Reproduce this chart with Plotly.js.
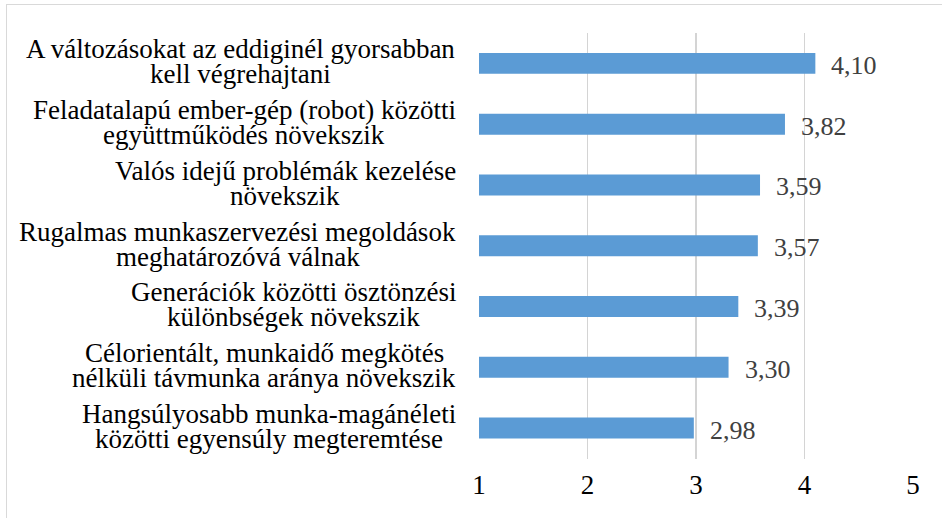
<!DOCTYPE html>
<html>
<head>
<meta charset="utf-8">
<script src="https://cdn.plot.ly/plotly-3.0.1.min.js"></script>
<style>
  html, body { margin: 0; padding: 0; background: #fff; overflow: hidden; }
  #wrap { position: relative; width: 942px; height: 518px; }
  #chart { position: absolute; left: 0; top: 0; width: 942px; height: 518px; }
  #frame { position: absolute; left: 6px; top: 4px; width: 1000px; height: 1000px;
           border: 1px solid #d9d9d9; pointer-events: none; }
</style>
</head>
<body>
<div id="wrap"><div id="chart"></div><div id="frame"></div></div>
<script>
const categories = [
  "A változásokat az eddiginél gyorsabban<br>kell végrehajtani",
  "Feladatalapú ember-gép (robot) közötti<br>együttműködés növekszik",
  "Valós idejű problémák kezelése<br>növekszik",
  "Rugalmas munkaszervezési megoldások<br>meghatározóvá válnak",
  "Generációk közötti ösztönzési<br>különbségek növekszik",
  "Célorientált, munkaidő megkötés<br>nélküli távmunka aránya növekszik",
  "Hangsúlyosabb munka-magánéleti<br>közötti egyensúly megteremtése"
];
const values = [4.10, 3.82, 3.59, 3.57, 3.39, 3.30, 2.98];
const tickValues = [1, 2, 3, 4, 5];

const W = 942, H = 518;
const M = { l: 479, r: 29, t: 33, b: 59 };
const plotW = W - M.l - M.r;
const FONT = "Liberation Serif";
const labelSize = 27;
const labelRight = 456;

const ctx = document.createElement("canvas").getContext("2d");
ctx.font = labelSize + 'px "' + FONT + '"';

const annotations = [];
categories.forEach((cat, i) => {
  const lines = cat.split("<br>");
  const wMax = Math.max(...lines.map(s => ctx.measureText(s).width));
  const center = labelRight - wMax / 2;
  const xp = (center - M.l) / plotW;
  lines.forEach((ln, j) => {
    annotations.push({
      xref: "paper", yref: "y", x: xp, y: cat,
      xanchor: "center", yanchor: "middle",
      text: ln, showarrow: false,
      yshift: j === 0 ? 14 : -11,
      font: { family: FONT, size: labelSize, color: "#000000" }
    });
  });
  annotations.push({
    xref: "x", yref: "y", x: values[i], y: cat,
    xanchor: "left", yanchor: "middle", xshift: 14, yshift: -2,
    text: values[i].toFixed(2).replace(".", ","), showarrow: false,
    font: { family: FONT, size: 26, color: "#404040" }
  });
});

const trace = {
  type: "bar", orientation: "h",
  x: values.map(v => v - 1), y: categories, base: 1,
  marker: { color: "#5B9BD5", line: { width: 0 } },
  hoverinfo: "none"
};

const layout = {
  width: W, height: H,
  margin: M,
  paper_bgcolor: "#ffffff", plot_bgcolor: "#ffffff",
  font: { family: FONT, size: 26, color: "#000000" },
  showlegend: false,
  bargap: 0.655,
  xaxis: {
    range: [1, 5], tickvals: tickValues, ticktext: tickValues.map(String),
    showgrid: true, gridcolor: "#d4d4d4", gridwidth: 1.8,
    zeroline: false, showline: false, ticks: "",
    tickfont: { family: FONT, size: 27, color: "#000000" },
    ticklabelstandoff: 7, fixedrange: true
  },
  yaxis: {
    type: "category", autorange: "reversed",
    showticklabels: false, showgrid: false, zeroline: false, showline: false,
    ticks: "", fixedrange: true
  },
  annotations: annotations
};

Plotly.newPlot("chart", [trace], layout, { displayModeBar: false, staticPlot: true });
</script>
</body>
</html>
